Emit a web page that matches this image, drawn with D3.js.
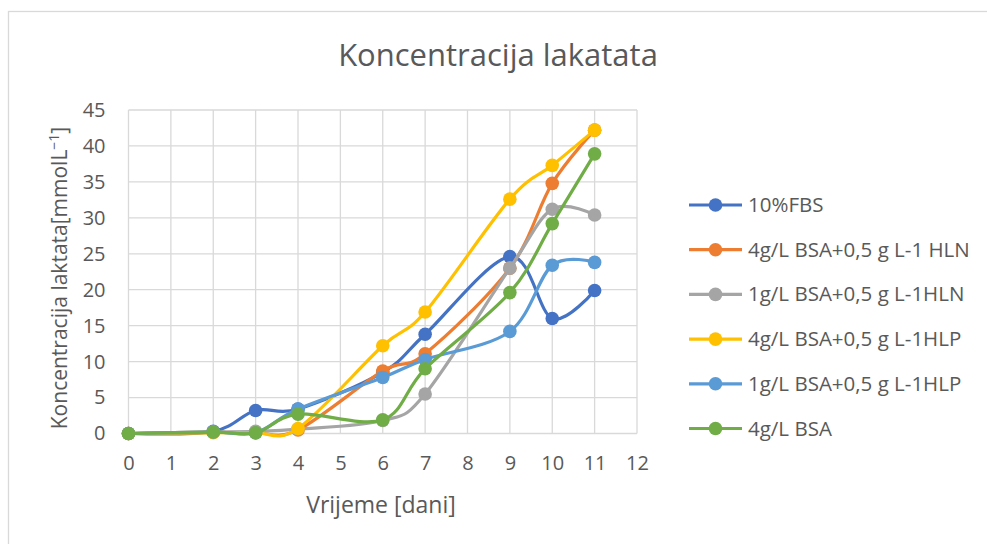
<!DOCTYPE html>
<meta charset="utf-8">
<html>
<head>
<style>
  body { margin: 0; background: #fff; }
  svg { display: block; font-family: "Open Sans", "Noto Sans", sans-serif; }
  .grid line { stroke: #d9d9d9; stroke-width: 1.3; }
  .lbl { fill: #595959; }
</style>
</head>
<body>
<svg width="987" height="544"></svg>
</body>
</html>

<script src="https://d3js.org/d3.v7.min.js"></script>
<script>

// days of measurement
var days = [0, 2, 3, 4, 6, 7, 9, 10, 11];

var seriesNames = ["10%FBS", "4g/L BSA+0,5 g L-1 HLN", "1g/L BSA+0,5 g L-1HLN",
  "4g/L BSA+0,5 g L-1HLP", "1g/L BSA+0,5 g L-1HLP", "4g/L BSA"];
var colors = ["#4472C4", "#ED7D31", "#A5A5A5", "#FFC000", "#5B9BD5", "#70AD47"];

var fbs10      = [0, 0.3, 3.2, 3.4, 8.5, 13.8, 24.6, 16.0, 19.9];
var bsa4hln    = [0, 0.2, 0.1, 0.5, 8.7, 11.1, 23.0, 34.8, 42.2];
var bsa1hln    = [0, 0.2, 0.3, 0.6, 1.8, 5.5, 23.0, 31.2, 30.4];
var bsa4hlp    = [0, 0.1, 0.1, 0.7, 12.2, 16.9, 32.6, 37.3, 42.2];
var bsa1hlp    = [0, 0.2, 0.1, 3.4, 7.8, 10.3, 14.2, 23.4, 23.8];
var bsa4       = [0, 0.2, 0.1, 2.7, 1.9, 9.0, 19.6, 29.2, 38.9];

var xTicks = d3.range(0, 13);
var yTicks = d3.range(0, 46, 5);

var allValues = [fbs10, bsa4hln, bsa1hln, bsa4hlp, bsa1hlp, bsa4];

var svg = d3.select("svg");

// outer chart border (only top/left show in the crop)
svg.append("rect")
    .attr("x", 8.5).attr("y", 11.5)
    .attr("width", 1000).attr("height", 600)
    .attr("fill", "none")
    .attr("stroke", "#d9d9d9")
    .attr("stroke-width", 1.3);

var x = d3.scaleLinear().domain([0, 12]).range([128.5, 637]);
var y = d3.scaleLinear().domain([0, 45]).range([433.5, 110]);

// grid
var grid = svg.append("g").attr("class", "grid");
grid.selectAll(".v").data(xTicks).enter().append("line")
    .attr("x1", function(d) { return x(d); })
    .attr("x2", function(d) { return x(d); })
    .attr("y1", y(45)).attr("y2", y(0));
grid.selectAll(".h").data(yTicks).enter().append("line")
    .attr("x1", x(0)).attr("x2", x(12))
    .attr("y1", function(d) { return y(d); })
    .attr("y2", function(d) { return y(d); });

// axes (labels only, Excel style)
var xAxis = svg.append("g")
    .attr("transform", "translate(0," + y(0) + ")")
    .call(d3.axisBottom(x).tickValues(xTicks).tickSize(0).tickPadding(22).tickFormat(d3.format("d")));
var yAxis = svg.append("g")
    .attr("transform", "translate(" + x(0) + ",0)")
    .call(d3.axisLeft(y).tickValues(yTicks).tickSize(0).tickPadding(23));
[xAxis, yAxis].forEach(function(a) {
  a.select(".domain").remove();
  a.selectAll("text")
      .attr("fill", "#595959")
      .style("font-size", "20px")
      .style("font-family", "\"Open Sans\", sans-serif");
});

// title
svg.append("text")
    .attr("class", "lbl")
    .attr("x", 498).attr("y", 66)
    .attr("text-anchor", "middle")
    .style("font-size", "31px")
    .text("Koncentracija lakatata");

// x axis title
svg.append("text")
    .attr("class", "lbl")
    .attr("x", 381).attr("y", 513)
    .attr("text-anchor", "middle")
    .style("font-size", "23px")
    .text("Vrijeme [dani]");

// y axis title
var yt = svg.append("text")
    .attr("class", "lbl")
    .attr("transform", "translate(67,278) rotate(-90)")
    .attr("text-anchor", "middle")
    .style("font-size", "21px");
yt.append("tspan").text("Koncentracija laktata[mmolL");
yt.append("tspan").attr("dy", -8).style("font-size", "14px").text("\u22121");
yt.append("tspan").attr("dy", 8).text("]");

// lines
var line = d3.line()
    .x(function(d) { return x(d[0]); })
    .y(function(d) { return y(d[1]); })
    .curve(d3.curveCardinal.tension(0));

allValues.forEach(function(vals, i) {
  var pts = days.map(function(dd, j) { return [dd, vals[j]]; });
  var g = svg.append("g");
  g.append("path")
      .attr("d", line(pts))
      .attr("fill", "none")
      .attr("stroke", colors[i])
      .attr("stroke-width", 3.2)
      .attr("stroke-linejoin", "round")
      .attr("stroke-linecap", "round");
  g.selectAll("circle").data(pts).enter().append("circle")
      .attr("cx", function(d) { return x(d[0]); })
      .attr("cy", function(d) { return y(d[1]); })
      .attr("r", 6.8)
      .attr("fill", colors[i]);
});

// legend
var legend = svg.append("g");
seriesNames.forEach(function(name, i) {
  var ly = 205 + i * 44.7;
  legend.append("line")
      .attr("x1", 689).attr("x2", 742)
      .attr("y1", ly).attr("y2", ly)
      .attr("stroke", colors[i]).attr("stroke-width", 3.2);
  legend.append("circle")
      .attr("cx", 715.5).attr("cy", ly).attr("r", 6.8)
      .attr("fill", colors[i]);
  legend.append("text")
      .attr("class", "lbl")
      .attr("x", 748).attr("y", ly + 7)
      .style("font-size", "20.5px")
      .text(name);
});

</script>
